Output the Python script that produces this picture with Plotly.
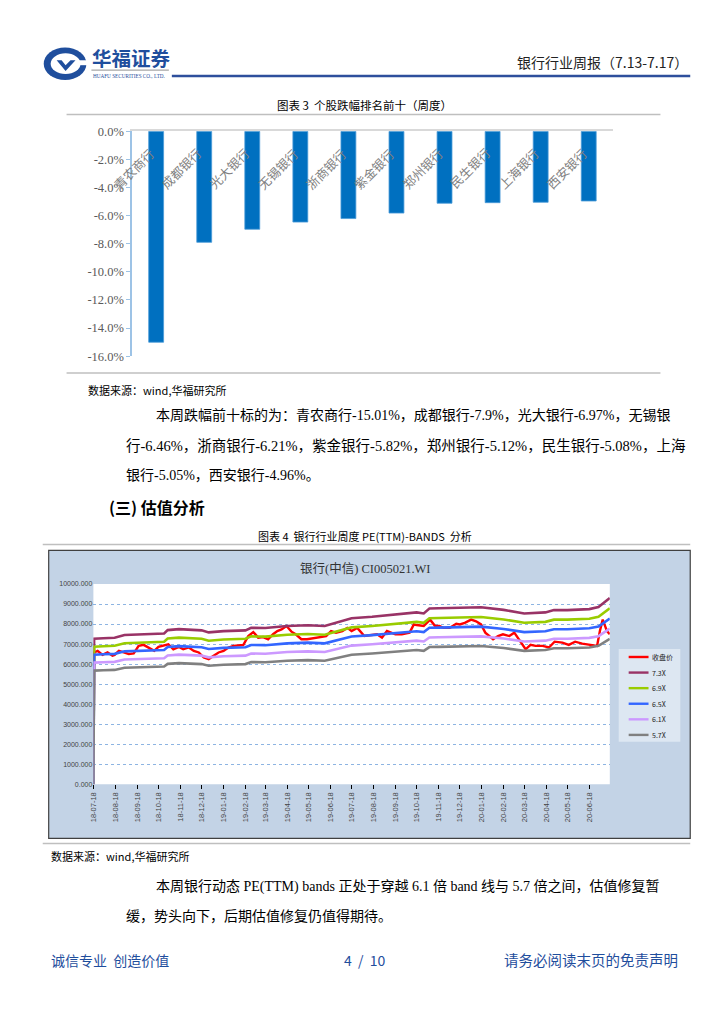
import plotly.graph_objects as go

W, H = 724, 1024


def px(x):
    return x / W


def py(y):
    return 1 - y / H


# ---------------- Chart 3 data: weekly top-10 decliners ----------------
banks = ["青农商行", "成都银行", "光大银行", "无锡银行", "浙商银行",
         "紫金银行", "郑州银行", "民生银行", "上海银行", "西安银行"]
weekly_change = [-15.01, -7.9, -6.97, -6.46, -6.21, -5.82, -5.12, -5.08, -5.05, -4.96]
bar_ticks = [0, -2, -4, -6, -8, -10, -12, -14, -16]
bar_tick_text = ["0.0%", "-2.0%", "-4.0%", "-6.0%", "-8.0%", "-10.0%", "-12.0%", "-14.0%", "-16.0%"]

# ---------------- Chart 4 data: PE(TTM) bands ----------------
close_dates = [
    "2018-07-18", "2018-07-19", "2018-07-24", "2018-07-31", "2018-08-07", "2018-08-14", "2018-08-17",
    "2018-08-23", "2018-08-30", "2018-09-06", "2018-09-13", "2018-09-20", "2018-09-27", "2018-10-09",
    "2018-10-12", "2018-10-18", "2018-10-25", "2018-11-01", "2018-11-08", "2018-11-16", "2018-11-22",
    "2018-11-30", "2018-12-07", "2018-12-14", "2018-12-21", "2018-12-28", "2019-01-04", "2019-01-11",
    "2019-01-18", "2019-01-25", "2019-02-01", "2019-02-15", "2019-02-22", "2019-03-01", "2019-03-08",
    "2019-03-15", "2019-03-22", "2019-03-29", "2019-04-04", "2019-04-10", "2019-04-17", "2019-04-24",
    "2019-04-30", "2019-05-08", "2019-05-16", "2019-05-24", "2019-05-31", "2019-06-12", "2019-06-19",
    "2019-06-26", "2019-07-05", "2019-07-12", "2019-07-18", "2019-07-26", "2019-08-05", "2019-08-16",
    "2019-08-23", "2019-08-30", "2019-09-06", "2019-09-18", "2019-09-27", "2019-10-08", "2019-10-14",
    "2019-10-18", "2019-10-28", "2019-11-06", "2019-11-13", "2019-11-19", "2019-11-25", "2019-12-04",
    "2019-12-13", "2019-12-18", "2019-12-25", "2020-01-03", "2020-01-10", "2020-01-17", "2020-01-23",
    "2020-02-03", "2020-02-10", "2020-02-17", "2020-02-26", "2020-03-04", "2020-03-09", "2020-03-16",
    "2020-03-20", "2020-03-27", "2020-04-03", "2020-04-13", "2020-04-22", "2020-04-30", "2020-05-11",
    "2020-05-20", "2020-05-29", "2020-06-08", "2020-06-17", "2020-06-29", "2020-07-03", "2020-07-07",
    "2020-07-13", "2020-07-17"]
close_values = [
    0, 6580, 6660, 6460, 6580, 6420, 6460,
    6660, 6580, 6500, 6530, 6910, 6960, 6740,
    6660, 6860, 6910, 6990, 6740, 6860, 6740,
    6830, 6660, 6580, 6330, 6250, 6420, 6580,
    6660, 6830, 6910, 6960, 7400, 7600, 7320,
    7350, 7240, 7490, 7650, 7730, 7900, 7620,
    7490, 7240, 7240, 7290, 7320, 7400, 7650,
    7570, 7650, 7810, 7650, 7810, 7400, 7450,
    7490, 7320, 7650, 7490, 7490, 7570, 7980,
    7950, 7900, 8220, 7900, 7900, 7810, 7810,
    8010, 7980, 8060, 8220, 8140, 7980, 7570,
    7240, 7400, 7490, 7400, 7570, 7320, 6990,
    6740, 6960, 6910, 6910, 6830, 7120, 7070,
    6960, 7120, 7020, 6960, 6910, 7650, 8220,
    7650, 7490]

band_dates = [
    "2018-07-18", "2018-07-19", "2018-08-01", "2018-08-17", "2018-08-31", "2018-09-18", "2018-10-18",
    "2018-10-26", "2018-10-31", "2018-11-16", "2018-12-18", "2018-12-28", "2019-01-18", "2019-02-18",
    "2019-02-26", "2019-03-18", "2019-04-18", "2019-05-17", "2019-06-10", "2019-06-24", "2019-07-18",
    "2019-08-16", "2019-09-18", "2019-10-18", "2019-10-28", "2019-11-05", "2019-11-18", "2019-12-18",
    "2020-01-17", "2020-02-18", "2020-03-18", "2020-04-17", "2020-04-29", "2020-05-18", "2020-06-18",
    "2020-07-01", "2020-07-17"]
band_73x = [0, 7268, 7287, 7313, 7454, 7479, 7518, 7531, 7697, 7748, 7684, 7582, 7646, 7684,
            7812, 7800, 7902, 7940, 7902, 8056, 8286, 8363, 8465, 8581, 8530, 8773, 8786, 8798,
            8837, 8709, 8530, 8581, 8696, 8696, 8747, 8850, 9298]
band_69x = [0, 6870, 6888, 6912, 7045, 7069, 7106, 7118, 7275, 7324, 7263, 7166, 7227, 7263,
            7384, 7372, 7469, 7505, 7469, 7614, 7832, 7905, 8001, 8110, 8062, 8292, 8304, 8316,
            8353, 8231, 8062, 8110, 8219, 8219, 8268, 8365, 8788]
band_65x = [0, 6472, 6489, 6512, 6637, 6660, 6694, 6706, 6854, 6899, 6842, 6751, 6808, 6842,
            6956, 6945, 7036, 7071, 7036, 7173, 7378, 7447, 7538, 7641, 7595, 7812, 7823, 7835,
            7869, 7755, 7595, 7641, 7743, 7743, 7789, 7880, 8279]
band_61x = [0, 6073, 6089, 6111, 6229, 6250, 6282, 6293, 6432, 6475, 6421, 6336, 6389, 6421,
            6528, 6518, 6603, 6635, 6603, 6732, 6924, 6988, 7074, 7170, 7128, 7331, 7342, 7352,
            7384, 7277, 7128, 7170, 7267, 7267, 7310, 7395, 7770]
band_57x = [0, 5675, 5690, 5710, 5820, 5840, 5870, 5880, 6010, 6050, 6000, 5920, 5970, 6000,
            6100, 6090, 6170, 6200, 6170, 6290, 6470, 6530, 6610, 6700, 6660, 6850, 6860, 6870,
            6900, 6800, 6660, 6700, 6790, 6790, 6830, 6910, 7260]

series_names = ["收盘价", "7.3X", "6.9X", "6.5X", "6.1X", "5.7X"]
series_colors = ["#FF0000", "#993366", "#99CC00", "#3366FF", "#CC99FF", "#808080"]

pe_tick_dates = ["2018-07-18", "2018-08-18", "2018-09-18", "2018-10-18", "2018-11-18", "2018-12-18",
                 "2019-01-18", "2019-02-18", "2019-03-18", "2019-04-18", "2019-05-18", "2019-06-18",
                 "2019-07-18", "2019-08-18", "2019-09-18", "2019-10-18", "2019-11-18", "2019-12-18",
                 "2020-01-18", "2020-02-18", "2020-03-18", "2020-04-18", "2020-05-18", "2020-06-18"]
pe_tick_text = ["18-07-18", "18-08-18", "18-09-18", "18-10-18", "18-11-18", "18-12-18",
                "19-01-18", "19-02-18", "19-03-18", "19-04-18", "19-05-18", "19-06-18",
                "19-07-18", "19-08-18", "19-09-18", "19-10-18", "19-11-18", "19-12-18",
                "20-01-18", "20-02-18", "20-03-18", "20-04-18", "20-05-18", "20-06-18"]
pe_y_ticks = [0, 1000, 2000, 3000, 4000, 5000, 6000, 7000, 8000, 9000, 10000]
pe_y_text = ["0.000", "1000.000", "2000.000", "3000.000", "4000.000", "5000.000",
             "6000.000", "7000.000", "8000.000", "9000.000", "10000.000"]

SERIF = "Liberation Serif, Noto Sans CJK SC, serif"
SANS = "Noto Sans CJK SC, Liberation Sans, sans-serif"
BLUE = "#1F4E9D"

fig = go.Figure()

# ---- bar chart ----
fig.add_trace(go.Bar(
    x=banks, y=weekly_change, width=0.31,
    marker=dict(color="#0070C0", line=dict(color="#4A9BD8", width=0.8)),
    xaxis="x", yaxis="y", showlegend=False, hoverinfo="skip"))

# ---- PE bands ----
fig.add_trace(go.Scatter(x=close_dates, y=close_values, mode="lines", name=series_names[0],
                         line=dict(color=series_colors[0], width=2.4), xaxis="x2", yaxis="y2",
                         showlegend=False))
for name, color, vals in zip(series_names[1:], series_colors[1:],
                             [band_73x, band_69x, band_65x, band_61x, band_57x]):
    fig.add_trace(go.Scatter(x=band_dates, y=vals, mode="lines", name=name,
                             line=dict(color=color, width=2.6), xaxis="x2", yaxis="y2",
                             showlegend=False))

# plot geometry (pixels)
B_L, B_R, B_T, B_B = 128, 612, 126, 354
P_L, P_R, P_T, P_B = 89, 609, 585, 788

shapes = []
annotations = []


def hline(x0, x1, y, color, width):
    shapes.append(dict(type="line", xref="paper", yref="paper", x0=px(x0), x1=px(x1),
                       y0=py(y), y1=py(y), line=dict(color=color, width=width), layer="below"))


def rect(x0, y0, x1, y1, fill, line_color=None, lw=0, layer="below"):
    shapes.append(dict(type="rect", xref="paper", yref="paper", x0=px(x0), x1=px(x1),
                       y0=py(y1), y1=py(y0), fillcolor=fill,
                       line=dict(color=line_color or fill, width=lw), layer=layer))


def text(x, y, s, size, color="#000", family=SERIF, xanchor="left", bold=False, angle=0):
    if bold:
        s = "<b>" + s + "</b>"
    annotations.append(dict(x=px(x), y=py(y), xref="paper", yref="paper", text=s,
                            showarrow=False, xanchor=xanchor, yanchor="middle", textangle=angle,
                            font=dict(size=size, color=color, family=family)))


# ---- header ----
shapes.append(dict(type="circle", xref="paper", yref="paper", x0=px(39), x1=px(82),
                   y0=py(74), y1=py(41), fillcolor=BLUE, line=dict(width=0), layer="below"))
shapes.append(dict(type="circle", xref="paper", yref="paper", x0=px(46), x1=px(76),
                   y0=py(68), y1=py(47), fillcolor="white", line=dict(width=0), layer="below"))
shapes.append(dict(type="path", xref="paper", yref="paper",
                   path=f"M {px(52)} {py(54)} L {px(61)} {py(65)} L {px(71)} {py(54)} "
                        f"L {px(66)} {py(54)} L {px(61)} {py(59)} L {px(57)} {py(54)} Z",
                   fillcolor=BLUE, line=dict(width=0), layer="below"))
shapes.append(dict(type="rect", xref="paper", yref="paper", x0=px(74), x1=px(83),
                   y0=py(59), y1=py(54), fillcolor="white", line=dict(width=0), layer="below"))
text(86, 51, "华福证券", 19.5, BLUE, SANS, bold=True)
hline(87, 165, 64, "#A6A6A6", 1.2)
text(87, 70, "HUAFU SECURITIES CO., LTD.", 5.2, BLUE, SERIF)
hline(168, 690, 70, "#2E4F9C", 2.5)
text(690, 56, "银行行业周报（7.13-7.17）", 14, "#222", SANS, xanchor="right")

# ---- chart 3 captions ----
text(362, 99, "图表 3  个股跌幅排名前十（周度）", 11.5, "#000", SANS, xanchor="center")
hline(62, 660, 109, "#BFBFBF", 1.5)
hline(62, 660, 371, "#BFBFBF", 1.5)
text(82, 388, "数据来源：wind,华福研究所", 11, "#000", SANS)

for b in banks:
    annotations.append(dict(x=b, y=-2.7, xref="x", yref="y", text=b, showarrow=False,
                            textangle=-45, xshift=-22, xanchor="center", yanchor="middle",
                            font=dict(size=12.5, color="#7F7F7F", family=SERIF)))

# ---- paragraph 1 ----
text(150, 414, "本周跌幅前十标的为：青农商行-15.01%，成都银行-7.9%，光大银行-6.97%，无锡银", 14)
text(120, 445, "行-6.46%，浙商银行-6.21%，紫金银行-5.82%，郑州银行-5.12%，民生银行-5.08%，上海", 14.5)
text(120, 475, "银行-5.05%，西安银行-4.96%。", 14)
text(103, 507, "(三) 估值分析", 16, "#000", SANS, bold=True)

# ---- chart 4 captions ----
text(362, 536, "图表 4  银行行业周度 PE(TTM)-BANDS  分析", 11, "#000", SANS, xanchor="center")
hline(38, 690, 545, "#BFBFBF", 1.5)
rect(44, 551, 690, 843, "#C3D3E6", "#404040", 1.2)
rect(P_L, P_T, P_R, P_B, "#FFFFFF")
text(363, 569, "银行(中信) CI005021.WI", 12.5, "#333", SERIF, xanchor="center")
hline(38, 690, 848, "#BFBFBF", 1.5)
text(44, 861, "数据来源：wind,华福研究所", 11, "#000", SANS)

# manual legend
rect(618, 651, 680, 745, "#DDE7F2")
for i, (name, color) in enumerate(zip(series_names, series_colors)):
    yy = 659 + i * 15.8
    shapes.append(dict(type="line", xref="paper", yref="paper", x0=px(628), x1=px(648),
                       y0=py(yy), y1=py(yy), line=dict(color=color, width=2.4), layer="above"))
    text(649, yy, name, 7, "#222", SANS)

# ---- paragraph 2 ----
text(150, 892, "本周银行动态 PE(TTM) bands 正处于穿越 6.1 倍 band 线与 5.7 倍之间，估值修复暂", 14)
text(120, 922, "缓，势头向下，后期估值修复仍值得期待。", 14)

# ---- footer ----
text(44, 966, "诚信专业  创造价值", 14, BLUE, SANS)
text(362, 966, "4  /  10", 14, BLUE, SANS, xanchor="center")
text(680, 966, "请务必阅读末页的免责声明", 14.5, BLUE, SANS, xanchor="right")

fig.update_layout(
    width=W, height=H, margin=dict(l=0, r=0, t=0, b=0),
    paper_bgcolor="white", plot_bgcolor="rgba(0,0,0,0)",
    showlegend=False, bargap=0.6,
    shapes=shapes, annotations=annotations,
    xaxis=dict(domain=[px(B_L), px(B_R)], anchor="y", side="top", type="category",
               range=[-0.5, 9.5], showline=True, linecolor="#D9D9D9", linewidth=1.5,
               showticklabels=False, ticks="", showgrid=False, zeroline=False),
    yaxis=dict(domain=[py(B_B), py(B_T)], anchor="x", range=[-16, 0], tickvals=bar_ticks,
               ticktext=bar_tick_text, showgrid=False, zeroline=False, showline=True,
               linecolor="#9DC3E6", linewidth=1.5, ticks="outside", ticklen=4,
               tickcolor="#9DC3E6", tickfont=dict(family="Liberation Serif", size=12.5, color="#595959")),
    xaxis2=dict(domain=[px(P_L), px(P_R)], anchor="y2", type="date",
                range=["2018-07-18", "2020-07-17"], tickvals=pe_tick_dates, ticktext=pe_tick_text,
                tickangle=-90, ticks="outside", ticklen=4, tickcolor="#000", showgrid=False,
                showline=False, zeroline=False,
                tickfont=dict(family="Liberation Sans", size=7.5, color="#444")),
    yaxis2=dict(domain=[py(P_B), py(P_T)], anchor="x2", range=[0, 10000], tickvals=pe_y_ticks,
                ticktext=pe_y_text, showgrid=True, gridcolor="#8DB4E2", griddash="dot",
                gridwidth=1, zeroline=False, showline=False, ticks="",
                tickfont=dict(family="Liberation Sans", size=7, color="#444")),
)

fig.write_html("out.html", config={"displayModeBar": False},
               post_script="document.body.style.margin='0';document.body.style.overflow='hidden';")
